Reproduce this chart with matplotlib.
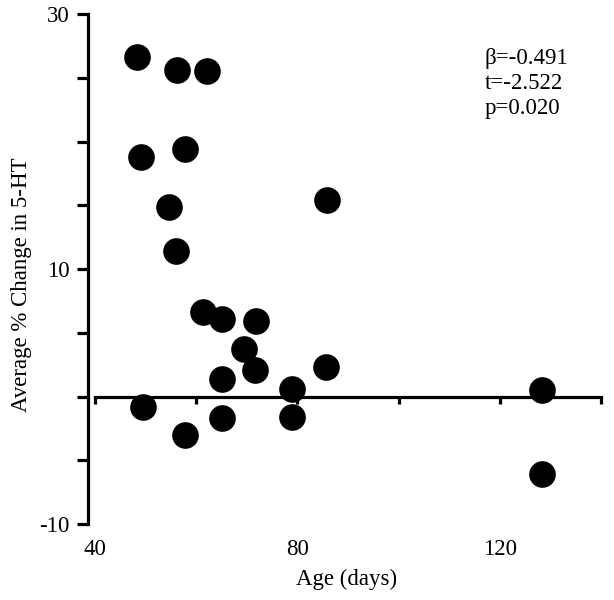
"""
Scatter of average % change in 5-HT against age, with regression stats.
"""

import matplotlib
matplotlib.use("Agg")
import matplotlib.pyplot as plt

# Data
age_days = [48.3, 56.2, 62.2, 49.1, 57.8, 54.7, 56.0, 85.9,
            61.4, 65.0, 71.9, 69.5, 71.7, 65.0, 79.0, 49.5,
            57.8, 65.0, 79.0, 85.7, 128.3, 128.3]
pct_change = [26.6, 25.6, 25.5, 18.8, 19.45, 14.9, 11.4, 15.4,
              6.6, 6.1, 5.95, 3.75, 2.1, 1.4, 0.6, -0.8,
              -3.0, -1.7, -1.6, 2.3, 0.5, -6.1]

x_ticks = [40, 60, 80, 100, 120, 140]
x_labels = [40, 80, 120]
y_ticks = [-10, -5, 0, 5, 10, 15, 20, 25, 30]
y_labels = ["-10", "", "", "", "10", "", "", "", "30"]
stats_lines = ["\u03b2=-0.491", "t=-2.522", "p=0.020"]

FONT = "Liberation Serif"
FS = 16.5


def main() -> None:
    plt.rcParams["font.family"] = [FONT, "DejaVu Serif"]
    fig = plt.figure(figsize=(6.14, 6.0), dpi=100)
    ax = fig.add_axes([88 / 614, 76 / 600, 518 / 614, 510 / 600])

    ax.scatter(age_days, pct_change, s=330, color="black", zorder=3,
               clip_on=False)

    ax.set_xlim(38.6, 141)
    ax.set_ylim(-10, 30)

    # x axis drawn through zero, labels kept at the bottom
    ax.spines["top"].set_visible(False)
    ax.spines["right"].set_visible(False)
    ax.spines["bottom"].set_position(("data", 0))
    ax.spines["bottom"].set_bounds(40, 140)
    ax.spines["left"].set_bounds(-10, 30)
    for side in ("bottom", "left"):
        ax.spines[side].set_linewidth(2.3)

    ax.set_xticks(x_ticks)
    ax.set_xticklabels([])
    ax.tick_params(axis="x", direction="out", length=5, width=2.3)

    ax.set_yticks(y_ticks)
    ax.set_yticklabels(y_labels, fontsize=FS)
    ax.tick_params(axis="y", direction="out", length=8, width=2.3, pad=5)

    sec = ax.secondary_xaxis("bottom")
    sec.spines["bottom"].set_visible(False)
    sec.set_xticks(x_labels)
    sec.set_xticklabels([str(v) for v in x_labels], fontsize=FS)
    sec.tick_params(axis="x", length=0, pad=11)

    ax.set_xlabel("Age (days)", fontsize=FS)
    ax.xaxis.set_label_coords(0.5, -0.088)
    ax.set_ylabel("Average % Change in 5-HT", fontsize=FS)
    ax.yaxis.set_label_coords(-0.108, 0.469)

    ax.text(117, 27.3, "\n".join(stats_lines), fontsize=FS, va="top",
            ha="left", linespacing=1.23)

    fig.savefig("out.png", dpi=100)
    plt.close(fig)


if __name__ == "__main__":
    main()
